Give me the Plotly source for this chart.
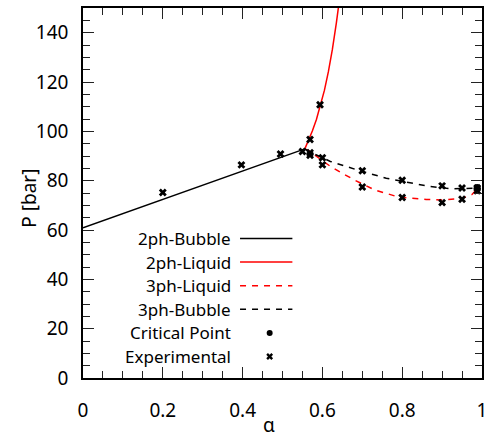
import plotly.graph_objects as go

# --- phase-boundary curves (alpha vs pressure in bar) ---
bubble2_alpha = [0.0, 0.1, 0.2, 0.3, 0.4, 0.5, 0.556]
bubble2_p = [60.9, 66.7, 72.4, 78.2, 83.9, 89.7, 92.9]

liquid2_alpha = [0.556, 0.565, 0.575, 0.585, 0.595, 0.605, 0.615, 0.625, 0.635, 0.642]
liquid2_p = [92.9, 96.2, 100.2, 104.8, 110.3, 116.6, 124.2, 133.2, 144.0, 152.5]

liquid3_alpha = [0.556, 0.565, 0.595, 0.62, 0.65, 0.68, 0.73, 0.79, 0.86, 0.90, 0.95, 0.975, 0.99]
liquid3_p = [92.9, 92.3, 88.7, 85.8, 83.0, 80.3, 76.3, 73.4, 72.4, 72.2, 72.8, 74.4, 77.0]

bubble3_alpha = [0.556, 0.565, 0.62, 0.69, 0.76, 0.80, 0.86, 0.92, 0.965, 0.99]
bubble3_p = [92.9, 91.9, 87.8, 84.2, 81.0, 79.7, 77.9, 76.7, 76.7, 77.0]

critical_alpha = [0.988]
critical_p = [77.2]

exp_alpha = [0.2, 0.397, 0.495, 0.55, 0.569, 0.569, 0.569, 0.594, 0.6, 0.6,
             0.7, 0.7, 0.8, 0.8, 0.9, 0.9, 0.95, 0.95, 0.988, 0.988]
exp_p = [75.2, 86.4, 90.8, 91.8, 96.7, 91.3, 90.3, 110.8, 89.3, 86.4,
         84.0, 77.4, 80.2, 73.2, 77.9, 71.1, 77.0, 72.5, 77.0, 75.9]

x_ticks = [0, 0.2, 0.4, 0.6, 0.8, 1]
x_tick_text = ["0", "0.2", "0.4", "0.6", "0.8", "1"]
y_ticks = [0, 20, 40, 60, 80, 100, 120, 140]

legend_names = ["2ph-Bubble", "2ph-Liquid", "3ph-Liquid", "3ph-Bubble",
                "Critical Point", "Experimental"]

FONT = "Noto Sans, Open Sans, sans-serif"
BLACK = "#000000"
RED = "#ff0000"
DASH = "6px,6px"

# plot-area geometry in pixels (for placing the key and titles)
PX_LEFT, PX_RIGHT, PX_TOP, PX_BOTTOM = 83, 487, 8, 378


def paper_x(px):
    return (px - PX_LEFT) / (PX_RIGHT - PX_LEFT)


def paper_y(py):
    return (PX_BOTTOM - py) / (PX_BOTTOM - PX_TOP)


fig = go.Figure()

fig.add_trace(go.Scatter(x=bubble2_alpha, y=bubble2_p, mode="lines",
                         line=dict(color=BLACK, width=1.5)))
fig.add_trace(go.Scatter(x=liquid2_alpha, y=liquid2_p, mode="lines",
                         line=dict(color=RED, width=1.5)))
fig.add_trace(go.Scatter(x=liquid3_alpha, y=liquid3_p, mode="lines",
                         line=dict(color=RED, width=1.5, dash=DASH)))
fig.add_trace(go.Scatter(x=bubble3_alpha, y=bubble3_p, mode="lines",
                         line=dict(color=BLACK, width=1.5, dash=DASH)))
fig.add_trace(go.Scatter(x=critical_alpha, y=critical_p, mode="markers",
                         marker=dict(symbol="circle", size=7, color=BLACK),
                         cliponaxis=False))
fig.add_trace(go.Scatter(x=exp_alpha, y=exp_p, mode="markers",
                         marker=dict(symbol="x", size=7, color=BLACK,
                                     line=dict(width=0)),
                         cliponaxis=False))

# --- key drawn inside the plot, text right-aligned with samples to the right ---
key_text_right = 235
key_sample = (242, 295)
key_marker_x = 272
key_rows = [238.5, 262.1, 285.7, 309.3, 332.9, 356.5]
key_styles = [
    dict(kind="line", color=BLACK, dash="solid"),
    dict(kind="line", color=RED, dash="solid"),
    dict(kind="line", color=RED, dash=DASH),
    dict(kind="line", color=BLACK, dash=DASH),
    dict(kind="marker", symbol="circle", size=6),
    dict(kind="marker", symbol="x", size=6),
]
for name, y, st in zip(legend_names, key_rows, key_styles):
    fig.add_annotation(x=paper_x(key_text_right), y=paper_y(y),
                       xref="paper", yref="paper",
                       text=name, showarrow=False, xanchor="right",
                       yanchor="middle",
                       font=dict(family=FONT, size=17, color=BLACK))
    if st["kind"] == "line":
        fig.add_trace(go.Scatter(x=list(key_sample), y=[y, y], mode="lines",
                                 xaxis="x2", yaxis="y2",
                                 line=dict(color=st["color"], width=1.5,
                                           dash=st["dash"])))
    else:
        fig.add_trace(go.Scatter(x=[key_marker_x], y=[y], mode="markers",
                                 xaxis="x2", yaxis="y2",
                                 marker=dict(symbol=st["symbol"], size=st["size"],
                                             color=BLACK, line=dict(width=0))))

# axis titles
fig.add_annotation(x=paper_x(271), y=paper_y(425), xref="paper", yref="paper",
                   text="α", showarrow=False, xanchor="center", yanchor="middle",
                   font=dict(family=FONT, size=19, color=BLACK))
fig.add_annotation(x=paper_x(28), y=paper_y(198), xref="paper", yref="paper",
                   text="P [bar]", showarrow=False, textangle=-90,
                   xanchor="center", yanchor="middle",
                   font=dict(family=FONT, size=19, color=BLACK))

axis_common = dict(
    showline=True, linecolor=BLACK, linewidth=1.5, mirror="ticks",
    ticks="inside", tickcolor="#222222", tickwidth=1,
    showgrid=False, zeroline=False,
    tickfont=dict(family=FONT, size=19, color=BLACK),
    ticklabeloverflow="allow",
)

fig.update_layout(
    width=490, height=437,
    margin=dict(l=PX_LEFT, r=490 - PX_RIGHT, t=PX_TOP, b=437 - PX_BOTTOM),
    paper_bgcolor="white", plot_bgcolor="white",
    showlegend=False,
    font=dict(family=FONT, color=BLACK),
    xaxis=dict(
        range=[0, 1], tickvals=x_ticks, ticktext=x_tick_text, ticklen=11,
        minor=dict(ticks="inside", dtick=0.05, ticklen=7,
                   tickcolor="#222222", tickwidth=1, showgrid=False),
        ticklabelstandoff=14,
        **axis_common,
    ),
    yaxis=dict(
        range=[0, 150], tickvals=y_ticks, ticklen=11,
        minor=dict(ticks="inside", dtick=5, ticklen=7,
                   tickcolor="#222222", tickwidth=1, showgrid=False),
        ticklabelstandoff=9,
        **axis_common,
    ),
    xaxis2=dict(range=[PX_LEFT, PX_RIGHT], overlaying="x", visible=False,
                fixedrange=True),
    yaxis2=dict(range=[PX_BOTTOM, PX_TOP], overlaying="y", visible=False,
                fixedrange=True),
)

fig.write_html("out.html")
